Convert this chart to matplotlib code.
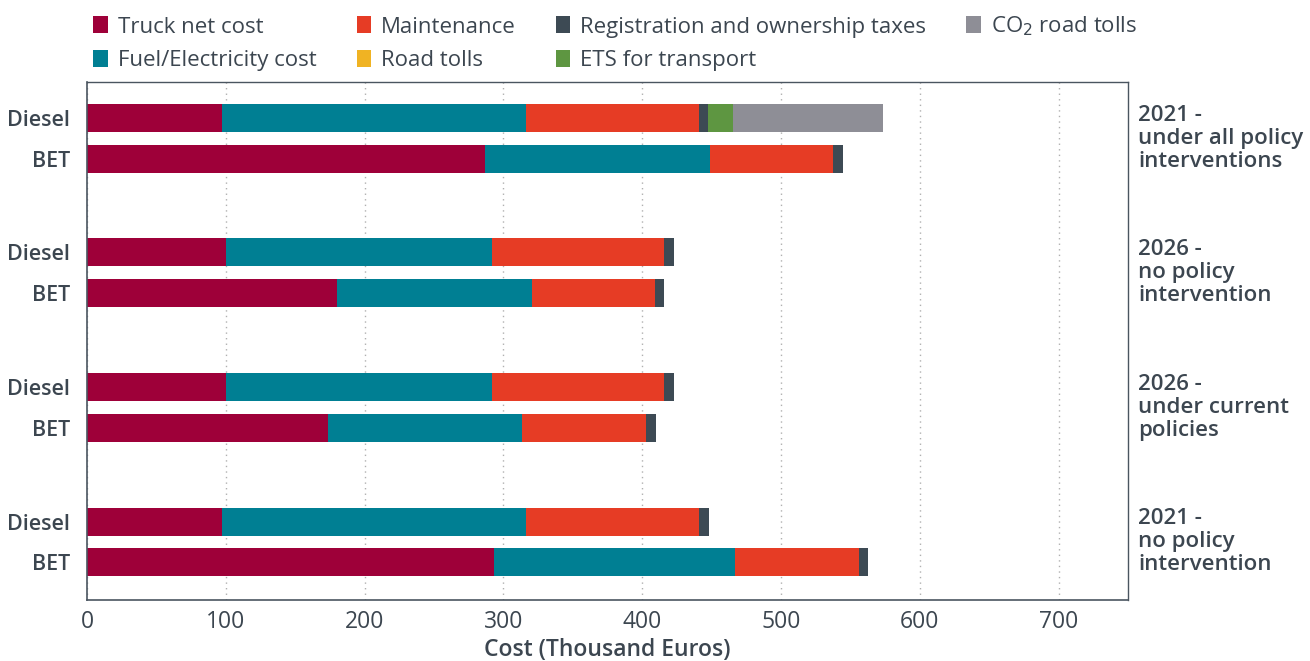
import numpy as np
import matplotlib
matplotlib.use("Agg")
import matplotlib.pyplot as plt
from matplotlib.patches import Patch

plt.rcParams["font.family"] = ["Open Sans", "DejaVu Sans"]

# scenarios from top to bottom, each with a Diesel and a BET bar
scenarios = ["2021 -\nunder all policy\ninterventions",
             "2026 -\nno policy\nintervention",
             "2026 -\nunder current\npolicies",
             "2021 -\nno policy\nintervention"]
trucks = ["Diesel", "BET"]

# values in thousand euros, bar order: Diesel, BET per scenario
truck_net = [97, 287, 100.5, 180, 100.5, 173.4, 97, 293]
fuel_cost = [219.5, 161.6, 191.6, 140.6, 191.6, 140.0, 219.5, 173.7]
maintenance = [124.7, 89.2, 123.8, 88.3, 123.8, 89.5, 124.7, 89.2]
reg_taxes = [6.4, 7.2, 6.8, 7.1, 6.8, 7.1, 6.8, 6.8]
road_tolls = [0, 0, 0, 0, 0, 0, 0, 0]
ets = [18.1, 0, 0, 0, 0, 0, 0, 0]
co2_tolls = [107.7, 0, 0, 0, 0, 0, 0, 0]

segments = [
    ("Truck net cost", truck_net, "#9e0039"),
    ("Fuel/Electricity cost", fuel_cost, "#007f93"),
    ("Maintenance", maintenance, "#e63c25"),
    ("Registration and ownership taxes", reg_taxes, "#3d4a54"),
    ("Road tolls", road_tolls, "#f0b323"),
    ("ETS for transport", ets, "#5e9641"),
    ("CO$_2$ road tolls", co2_tolls, "#8e8e96"),
]

txt = "#3c4650"
gap = 3.31
ypos = []
for g in range(len(scenarios)):
    ypos += [g * gap, g * gap + 1]
ypos = np.array(ypos)

fig = plt.figure(figsize=(13.1, 6.61), dpi=100)
ax = fig.add_axes([0.0664, 0.0923, 0.7947, 0.7837])

left = np.zeros(len(ypos))
handles = {}
for name, vals, col in segments:
    vals = np.array(vals, dtype=float)
    ax.barh(ypos, vals, left=left, height=0.69, color=col, linewidth=0)
    left += vals
    handles[name] = Patch(facecolor=col, label=name)

ax.set_xlim(0, 750)
ax.set_ylim(3 * gap + 1 + 0.93, -0.885)
ax.set_xticks(range(0, 800, 100))
ax.set_yticks(ypos)
ax.set_yticklabels(trucks * len(scenarios), fontsize=15.5, fontweight="semibold", color=txt)
ax.tick_params(axis="both", length=0, colors=txt)
ax.tick_params(axis="x", labelsize=16.5, pad=7)
ax.tick_params(axis="y", pad=12)
ax.grid(axis="x", linestyle=(0, (1, 3)), color="#b0b0b0", linewidth=1)
ax.set_axisbelow(True)
for s in ["left", "bottom"]:
    ax.spines[s].set_color("#4a5560")
    ax.spines[s].set_linewidth(1.2)
for s in ["top", "right"]:
    ax.spines[s].set_color("#4a5560")
    ax.spines[s].set_linewidth(1.0)

# x axis title placed by hand so it stays inside the figure
fig.text(0.4636, 0.017, "Cost (Thousand Euros)", ha="center", va="center",
         fontsize=16.5, fontweight="semibold", color=txt)

for g, lab in enumerate(scenarios):
    ax.text(1.01, g * gap + 0.5, lab, transform=ax.get_yaxis_transform(),
            ha="left", va="center", fontsize=16, fontweight="semibold",
            color=txt, linespacing=1.13)

order = ["Truck net cost", "Fuel/Electricity cost", "Maintenance", "Road tolls",
         "Registration and ownership taxes", "ETS for transport", "CO$_2$ road tolls"]
leg = fig.legend([handles[n] for n in order], order, ncol=4, loc="upper left",
                 bbox_to_anchor=(0.056, 1.008), frameon=False, fontsize=16,
                 handlelength=0.65, handleheight=0.8, handletextpad=0.45,
                 columnspacing=1.8, labelspacing=0.55)
for t in leg.get_texts():
    t.set_color(txt)

fig.savefig("out.png", dpi=100)
